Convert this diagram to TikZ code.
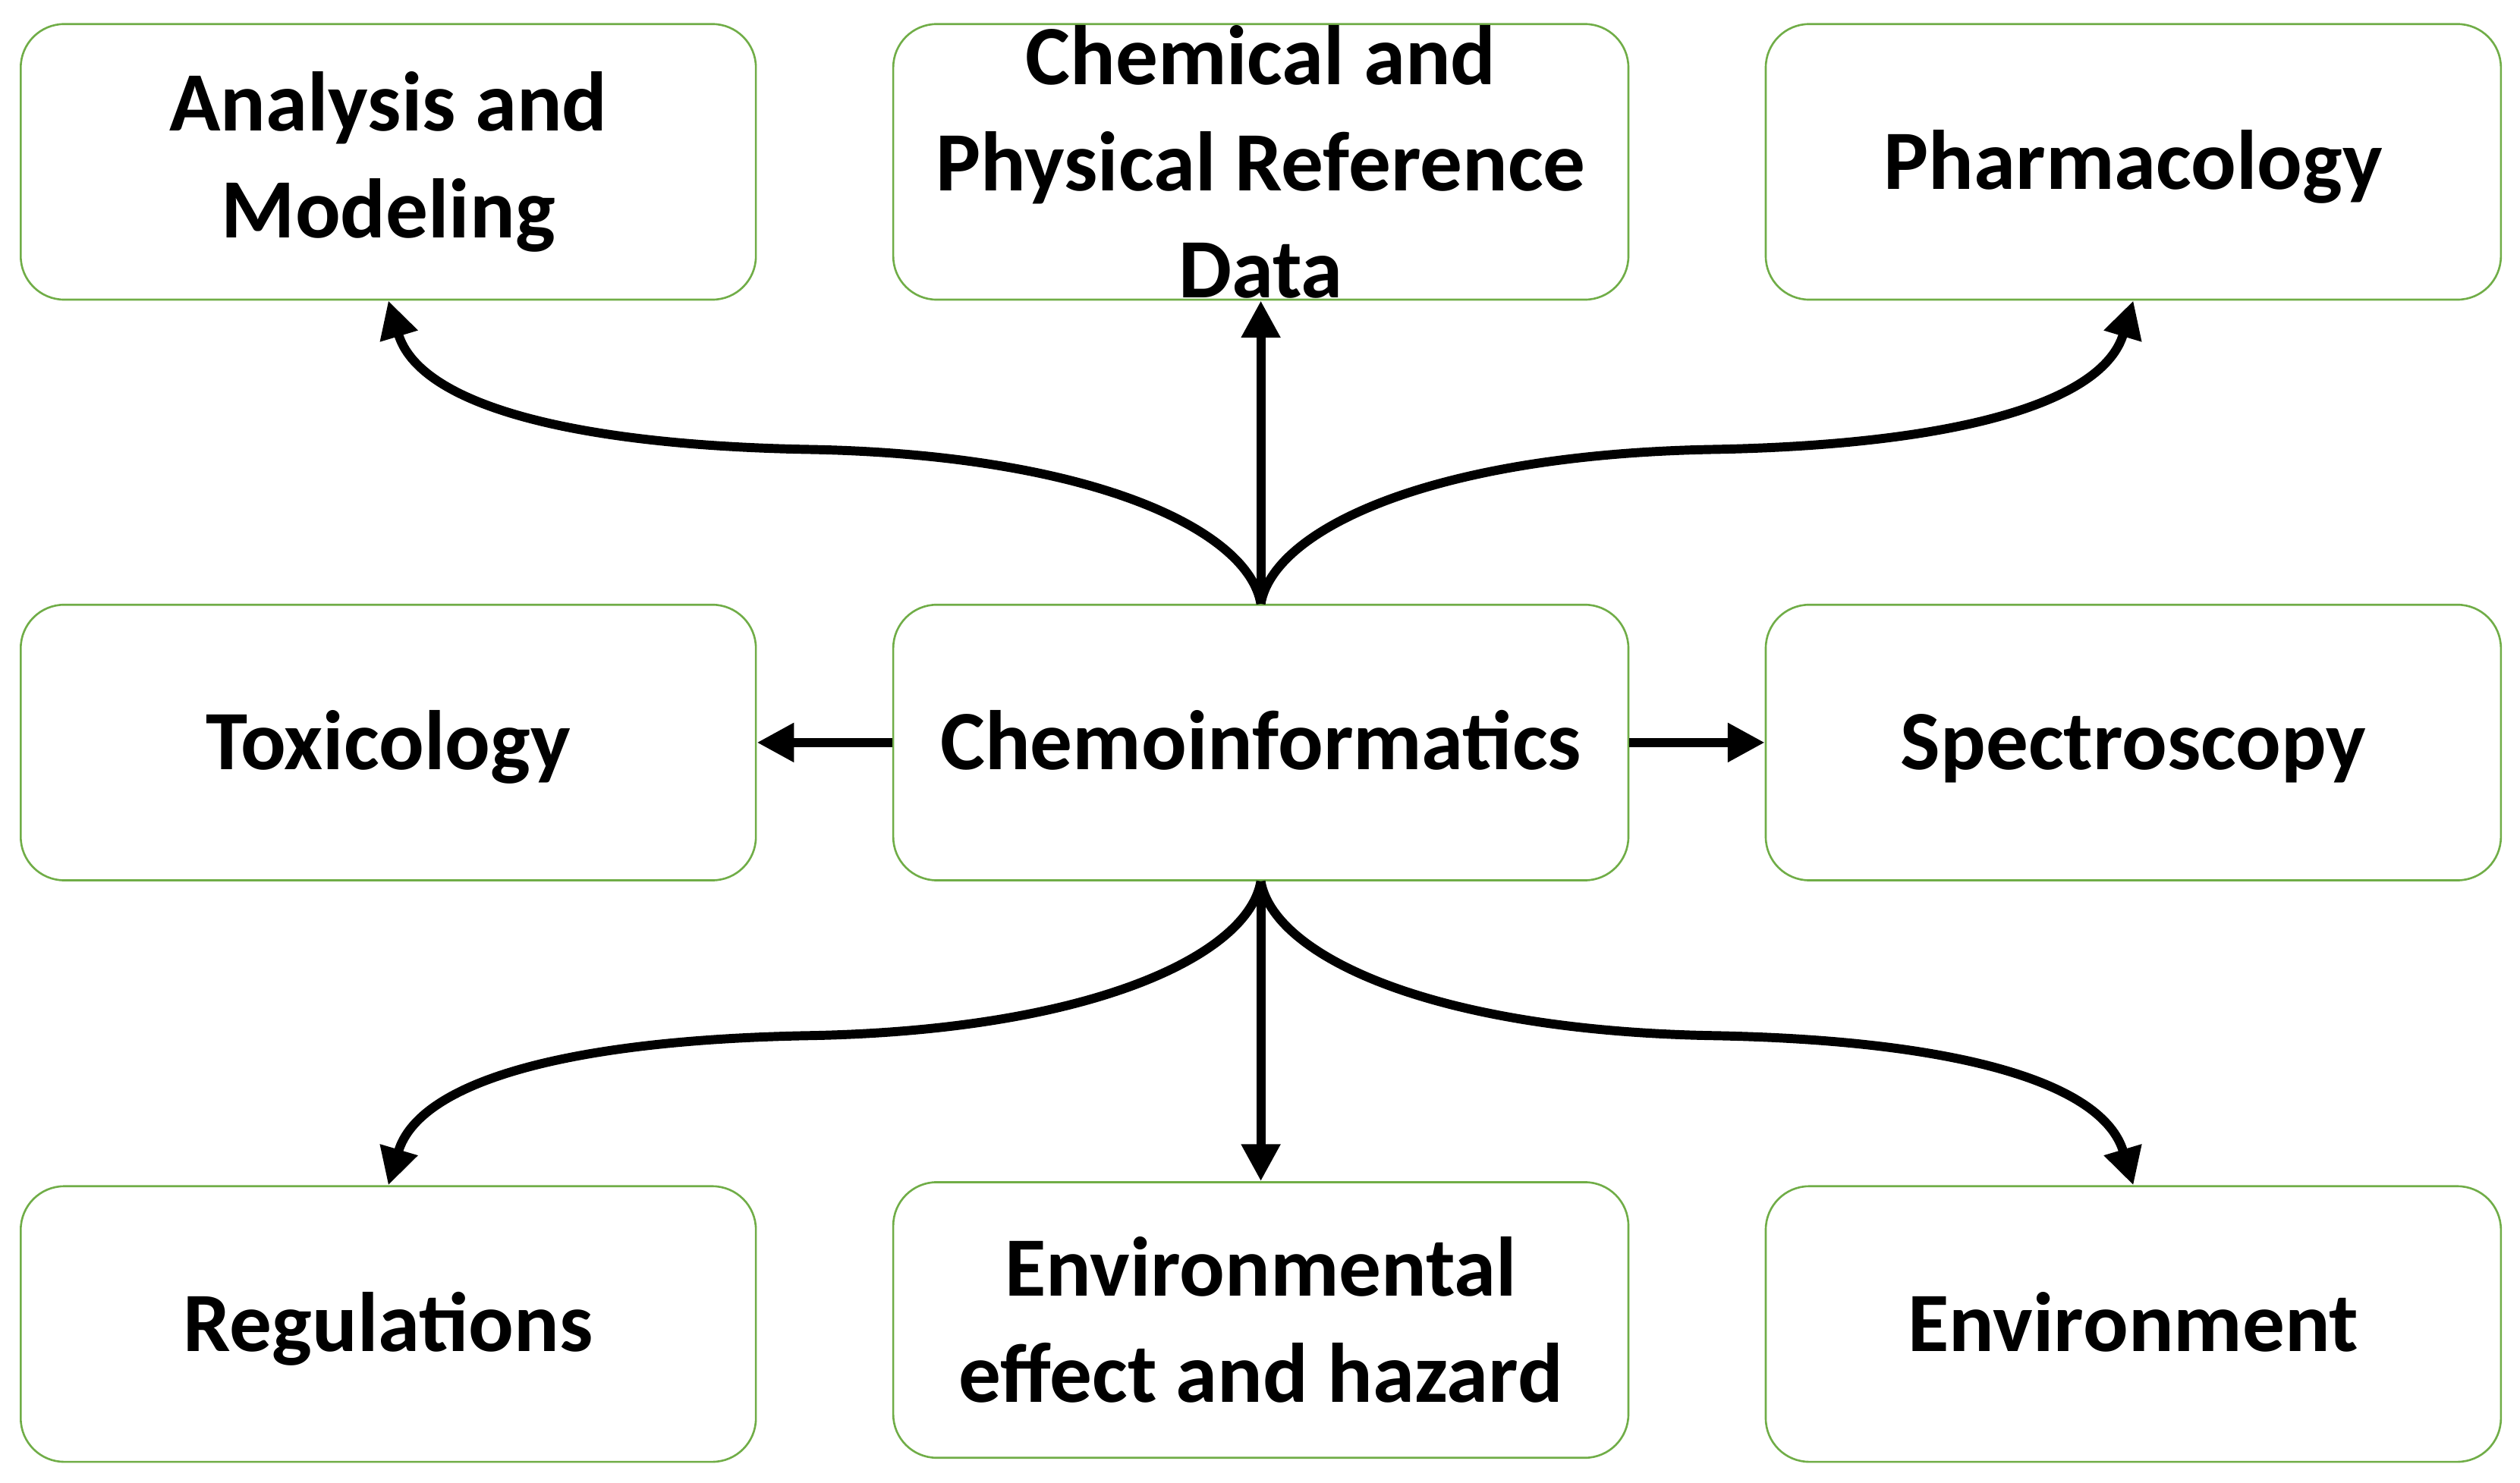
\documentclass[tikz,border=0pt]{standalone}
\usepackage{fontspec}
\setmainfont{Carlito}
\usetikzlibrary{arrows.meta}
\definecolor{boxgreen}{RGB}{112,173,71}
\begin{document}
\begin{tikzpicture}[x=0.01cm,y=-0.01cm,
  box/.style={draw=boxgreen, line width=0.35pt, rounded corners=0.27cm, fill=white,
    minimum width=4.56cm, minimum height=1.71cm, inner sep=0pt, align=center,
    font=\fontsize{14.9}{18.8}\selectfont\bfseries},
  onebox/.style={box, text height=9.6pt, text depth=0pt},
  conn/.style={line width=1.6pt, -{Triangle[length=0.23cm,width=0.23cm]}}]
\useasboundingbox (0,0) rectangle (1564,920.7);
\fill[white] (0,0) rectangle (1564,920.7);
% top row
\node[box] (ana)  at (241,100.5)  {Analysis and\\Modeling};
\node[box] (cprd) at (782.5,100.5) {Chemical and\\Physical Reference\\Data};
\node[onebox] (pha)  at (1324,100.5) {Pharmacology};
% middle row
\node[onebox] (tox)  at (241,461)    {Toxicology};
\node[onebox] (chem) at (782.5,461)  {Chemoinformatics};
\node[onebox] (spec) at (1324,461)   {Spectroscopy};
% bottom row
\node[onebox] (reg)  at (241,822)    {Regulations};
\node[box] (eeh)  at (782.5,819.5) {Environmental\\effect and hazard};
\node[onebox] (env)  at (1324,822)   {Environment};
% connectors
\draw[conn] (chem.north) -- (cprd.south);
\draw[conn] (chem.south) -- (eeh.north);
\draw[conn] (chem.west) -- (tox.east);
\draw[conn] (chem.east) -- (spec.west);
\draw[conn] (chem.north) .. controls (775,330) and (680,282) .. (500,279)
  .. controls (350,276) and (260,250) .. (ana.south);
\draw[conn] (chem.north) .. controls (790,330) and (885,282) .. (1065,279)
  .. controls (1215,276) and (1305,250) .. (pha.south);
\draw[conn] (chem.south) .. controls (775,592) and (680,640) .. (500,643)
  .. controls (350,646) and (260,672) .. (reg.north);
\draw[conn] (chem.south) .. controls (790,592) and (885,640) .. (1065,643)
  .. controls (1215,646) and (1305,672) .. (env.north);
\end{tikzpicture}
\end{document}
